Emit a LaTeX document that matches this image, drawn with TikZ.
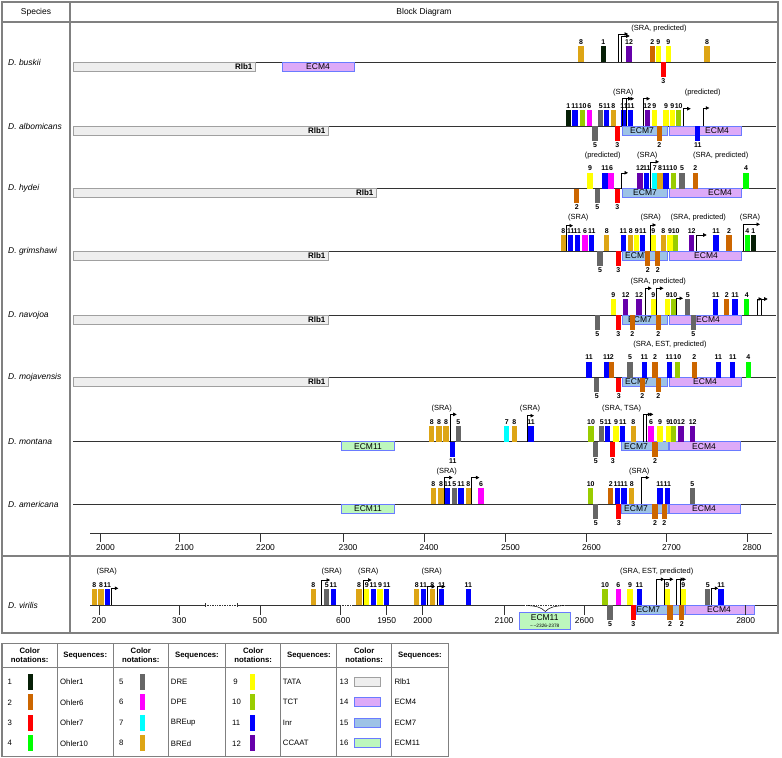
\documentclass[tikz,border=0pt]{standalone}
\usepackage{fontspec}
\setmainfont{Liberation Sans}
\usetikzlibrary{arrows.meta}
\definecolor{c1}{HTML}{061F06}
\definecolor{c2}{HTML}{CC6600}
\definecolor{c3}{HTML}{FF0000}
\definecolor{c4}{HTML}{00FF00}
\definecolor{c5}{HTML}{666666}
\definecolor{c6}{HTML}{FF00FF}
\definecolor{c7}{HTML}{00FFFF}
\definecolor{c8}{HTML}{DDA515}
\definecolor{c9}{HTML}{FFFF00}
\definecolor{c10}{HTML}{99CC00}
\definecolor{c11}{HTML}{0000FF}
\definecolor{c12}{HTML}{6600AA}
\definecolor{rlbf}{HTML}{EEEEEE}
\definecolor{rlbd}{HTML}{A0A0A0}
\definecolor{e4f}{HTML}{DDAAF8}
\definecolor{e7f}{HTML}{9DC3E6}
\definecolor{e11f}{HTML}{BDF7BD}
\definecolor{ebd}{HTML}{6A7BFF}
\newcounter{nc}
\def\rowy{0}
\newcommand\BU[2]{\stepcounter{nc}%
  \node[bar,fill=c#2,anchor=south] (u\arabic{nc}) at (#1,\rowy) {};%
  \node[num,anchor=base] (ul\arabic{nc}) at (#1,\rowy-17.6) {#2};}
\newcommand\BD[2]{\stepcounter{nc}%
  \node[bar,fill=c#2,anchor=north,minimum height=15] (d\arabic{nc}) at (#1,\rowy) {};%
  \node[num,anchor=base] (dl\arabic{nc}) at (#1,\rowy+21.4) {#2};}
\newcommand\TSS[3]{\draw[tss] (#1,\rowy) -- (#1,\rowy-#2) -- ++(#3,0);}
\newcommand\ANN[2]{\stepcounter{nc}\node[ann] (a\arabic{nc}) at (#1,\rowy-33) {#2};}
\newcommand\BOX[5]{\stepcounter{nc}\draw[#3] (#1,\rowy) rectangle (#2,\rowy+9);%
  \node[boxt] (x\arabic{nc}) at (#5,\rowy+4.5) {#4};}
\newcommand\RLB[1]{\stepcounter{nc}\draw[rlb] (73,\rowy) rectangle (#1,\rowy+9);%
  \node[boxt,font=\fontsize{8}{9}\selectfont\bfseries,anchor=east] (r\arabic{nc}) at (#1-2.5,\rowy+4.5) {Rlb1};}
\newcommand\BASE{\draw[baseln] (73,\rowy) -- (776,\rowy);}
\newcommand\SP[1]{\stepcounter{nc}\node[sp] (s\arabic{nc}) at (8,\rowy) {#1};}
\tikzset{
  bar/.style={minimum width=5.5, minimum height=16, inner sep=0, outer sep=0, draw=none},
  num/.style={font=\fontsize{7}{8}\selectfont\bfseries, inner sep=0},
  ann/.style={font=\fontsize{7.5}{9}\selectfont, inner sep=0},
  tss/.style={line width=0.6, -{Triangle[length=3.5,width=3.5]}},
  boxt/.style={font=\fontsize{8.5}{9}\selectfont, inner sep=0},
  baseln/.style={line width=0.7, draw=black!80},
  tab/.style={draw=gray, line width=1.1},
  rlb/.style={fill=rlbf, draw=rlbd, line width=0.6},
  ecm4/.style={fill=e4f, draw=ebd, line width=0.7},
  ecm7/.style={fill=e7f, draw=ebd, line width=0.7},
  ecm11/.style={fill=e11f, draw=ebd, line width=0.7},
  sp/.style={font=\fontsize{8.5}{10}\selectfont\itshape, anchor=west, inner sep=0},
  hdr/.style={font=\fontsize{8.5}{10}\selectfont, inner sep=0},
  axl/.style={font=\fontsize{8.5}{10}\selectfont, inner sep=0},
  lg/.style={font=\fontsize{7.8}{9}\selectfont, inner sep=0},
  lgh/.style={font=\fontsize{7.8}{9.5}\selectfont\bfseries, inner sep=0, align=center},
}
\begin{document}
\begin{tikzpicture}[x=1bp,y=-1bp]
\fill[white] (0,0) rectangle (782,758);
\useasboundingbox (0,0) rectangle (782,758);
% frame
\draw[tab] (2,2) rectangle (778,633);
\draw[tab] (2,22) -- (778,22);
\draw[tab] (70,2) -- (70,633);
\draw[tab] (2,556) -- (778,556);
\node[hdr] (hsp) at (36,12) {Species};
\node[hdr] (hbd) at (424,12) {Block Diagram};
% ---- D. buskii
\def\rowy{62}
\BASE
\RLB{255}
\BOX{282}{354}{ecm4}{ECM4}{318}
\foreach \x/\c in {581/8,603.3/1,629/12,652.3/2,658.3/9,668.3/9,707/8}{\BU{\x}{\c}}
\BD{663.3}{3}
\TSS{618}{28}{10}\TSS{621.7}{26}{8}
\ANN{659}{(SRA, predicted)}
\SP{D. buskii}
% ---- D. albomicans
\def\rowy{126}
\BASE
\RLB{328}
\BOX{622}{667}{ecm7}{ECM7}{642}
\BOX{669}{741}{ecm4}{ECM4}{717}
\foreach \x/\c in {568.3/1,575/11,582.7/10,589.3/6,600.7/5,606.7/11,613.3/8,624/11,630.7/11,647.3/12,654.3/9,666/9,672.3/9,678.7/10}{\BU{\x}{\c}}
\foreach \x/\c in {595/5,617.3/3,659.3/2,697.7/11}{\BD{\x}{\c}}
\TSS{622.3}{27.3}{9.4}\TSS{626.7}{27.3}{7.3}\TSS{643.3}{27.3}{6.7}\TSS{683.3}{17.3}{7.4}\TSS{703.3}{18}{6}
\ANN{623.3}{(SRA)}\ANN{702.7}{(predicted)}
\SP{D. albomicans}
% ---- D. hydei
\def\rowy{188.5}
\BASE
\RLB{376}
\BOX{622}{667}{ecm7}{ECM7}{645}
\BOX{669}{741}{ecm4}{ECM4}{720}
\foreach \x/\c in {590/9,605/11,611/6,640/12,646.7/11,654.7/7,660/8,666/11,673.3/10,682/5,695.3/2,746/4}{\BU{\x}{\c}}
\foreach \x/\c in {576.7/2,597.3/5,617.3/3}{\BD{\x}{\c}}
\TSS{621}{15.7}{7}\TSS{650}{26.7}{9}
\ANN{602.7}{(predicted)}\ANN{647.3}{(SRA)}\ANN{720.7}{(SRA, predicted)}
\SP{D. hydei}
% ---- D. grimshawi
\def\rowy{251}
\BASE
\RLB{328}
\BOX{622}{667}{ecm7}{ECM7}{637}
\BOX{669}{741}{ecm4}{ECM4}{706}
\foreach \x/\c in {563.3/8,570.7/11,577.3/11,585/6,591.7/11,606.7/8,623.3/11,630.7/8,636.7/9,642.7/11,653.3/9,663.3/8,670/9,675.7/10,691.7/12,716/11,729/2,747.3/4,753.3/1}{\BU{\x}{\c}}
\foreach \x/\c in {600/5,618.3/3,647.7/2,657.7/2}{\BD{\x}{\c}}
\TSS{566.7}{25.3}{6.3}\TSS{650}{26}{6}\TSS{696.7}{16}{10}\TSS{743.3}{26.7}{16.7}
\ANN{578.3}{(SRA)}\ANN{650.7}{(SRA)}\ANN{698.3}{(SRA, predicted)}\ANN{750}{(SRA)}
\SP{D. grimshawi}
% ---- D. navojoa
\def\rowy{315}
\BASE
\RLB{328}
\BOX{622}{667}{ecm7}{ECM7}{640}
\BOX{669}{741}{ecm4}{ECM4}{708}
\foreach \x/\c in {613.3/9,625.7/12,639/12,653.3/9,667.7/9,673.3/10,687.7/5,715.7/11,726.7/2,735/11,746.7/4}{\BU{\x}{\c}}
\foreach \x/\c in {597.3/5,618.3/3,632.3/2,658.3/2,693.3/5}{\BD{\x}{\c}}
\TSS{645}{26.7}{6.7}\TSS{656.7}{26.7}{6.7}\TSS{676.7}{16.7}{6.3}\TSS{757}{16}{5}\TSS{761}{16}{6.7}
\ANN{658.3}{(SRA, predicted)}
\SP{D. navojoa}
% ---- D. mojavensis
\def\rowy{377.5}
\BASE
\RLB{328}
\BOX{622}{667}{ecm7}{ECM7}{637}
\BOX{669}{741}{ecm4}{ECM4}{705}
\foreach \x/\c in {589/11,606.7/11,611.7/2,630/5,644.3/11,655/2,669.3/11,677.3/10,694.3/2,718.3/11,732.7/11,748.3/4}{\BU{\x}{\c}}
\foreach \x/\c in {596.7/5,618.7/3,642.3/2,658.3/2}{\BD{\x}{\c}}
\ANN{670}{(SRA, EST, predicted)}
\SP{D. mojavensis}
% ---- D. montana
\def\rowy{441.7}
\BASE
\BOX{341.7}{394.3}{ecm11}{ECM11}{368}
\BOX{621.7}{668.3}{ecm7}{ECM7}{636}
\BOX{669.3}{740}{ecm4}{ECM4}{704}
\foreach \x/\c in {431.7/8,439/8,446/8,458.3/5,506.7/7,514.3/8,531/11,591/10,601.7/5,607.7/11,616/9,622.7/11,633.3/8,651/6,660/9,668.3/9,673.3/10,681/12,692.7/12}{\BU{\x}{\c}}
\foreach \x/\c in {452.7/11,595.7/5,612.7/3,655/2}{\BD{\x}{\c}}
\TSS{450.7}{27.3}{6}\TSS{527.3}{26}{6.7}\TSS{643.3}{27.3}{8}\TSS{646}{27.3}{7.3}
\ANN{441.7}{(SRA)}\ANN{530}{(SRA)}\ANN{621.7}{(SRA, TSA)}
\SP{D. montana}
% ---- D. americana
\def\rowy{504.3}
\BASE
\BOX{341.7}{394.3}{ecm11}{ECM11}{368}
\BOX{621.7}{668.3}{ecm7}{ECM7}{636}
\BOX{669.3}{740}{ecm4}{ECM4}{704}
\foreach \x/\c in {433.3/8,441/8,447.7/11,454.3/5,461/11,468.3/8,481/6,590.7/10,610.7/2,617.3/11,624/11,631.7/8,660/11,667.3/11,692.3/5}{\BU{\x}{\c}}
\foreach \x/\c in {595.7/5,618.7/3,655/2,664.3/2}{\BD{\x}{\c}}
\TSS{444.3}{26.7}{8.3}\TSS{471.7}{26.7}{7.7}\TSS{641.7}{26.7}{7.6}
\ANN{446.7}{(SRA)}\ANN{639.3}{(SRA)}
\SP{D. americana}
% ---- axis
\draw[baseln] (90,533) -- (772,533);
\foreach \x/\t in {100.5/2000,179.5/2100,260.5/2200,343/2300,424/2400,505.5/2500,586.5/2600,666.5/2700,747/2800}{
  \draw[baseln] (\x,533) -- (\x,542);
  \node[axl] (ax\t) at (\x+5,548) {\t};}
% ---- D. virilis
\def\rowy{605}
\draw[baseln] (90,605) -- (205,605);
\draw[baseln,densely dotted,line width=0.5] (205,605) -- (237,605);
\draw[baseln] (237,605) -- (340,605);
\draw[baseln,densely dotted,line width=0.5] (340,605) -- (353,605);
\draw[baseln] (353,605) -- (524.3,605);
\draw[baseln,densely dotted,line width=0.5] (524.3,605) -- (565.7,605);
\draw[baseln] (565.7,605) -- (777,605);
\draw[baseln] (205,603) -- (205,607);
\draw[baseln] (237,603) -- (237,607);
\BOX{636.7}{685}{ecm7}{ECM7}{648.3}
\BOX{685}{754.3}{ecm4}{ECM4}{719}
\foreach \x/\t in {99/200,179.3/300,260/500,340.7/600,386.7/1950,422.7/2000,504/2100,584.3/2600,745.7/2800}{
  \draw[baseln] (\x,605) -- (\x,615);}
\foreach \x/\t in {99/200,179.3/300,260/500,343.3/600,386.7/1950,422.7/2000,504/2100,584.3/2600,745.7/2800}{
  \node[axl,fill=white,inner sep=0.5] (vx\t) at (\x,620.5) {\t};}
\draw[ecm11] (519.3,612.3) rectangle (570,629.3);
\node[boxt] (e11) at (544.7,617.8) {ECM11};
\node[font=\fontsize{4.8}{5}\selectfont, inner sep=0] (e11r) at (544.7,625.6) {\textasciitilde\,\textasciitilde2326-2378};
\draw[line width=0.5] (526.7,605.5) .. controls (536,606) and (541,607) .. (545.3,611.5) .. controls (549.5,607) and (555,606) .. (564.5,605.5);
\foreach \x/\c in {94.3/8,101/8,107.3/11,313.3/8,326.7/5,333.3/11,359/8,366.7/9,373.3/11,380/9,386.7/11,416.7/8,423.3/11,432.3/8,441.7/11,468.3/11,605/10,618.3/6,630/9,639.3/11,667.3/9,683.3/9,707.7/5,721/11}{\BU{\x}{\c}}
\foreach \x/\c in {610/5,633.3/3,670/2,681.7/2}{\BD{\x}{\c}}
\TSS{111}{16.7}{7.3}\TSS{321.7}{25}{8.3}\TSS{363.3}{25}{8.3}\TSS{427.7}{18.3}{7.3}\TSS{437.3}{18.3}{7.7}
\TSS{656.7}{25.7}{7.6}\TSS{664.3}{25.7}{9}\TSS{676.7}{25.7}{7.3}\TSS{680}{25.7}{6}\TSS{711}{16.7}{7.3}
\ANN{106.7}{(SRA)}\ANN{331.7}{(SRA)}\ANN{368.3}{(SRA)}\ANN{431.7}{(SRA)}\ANN{656.7}{(SRA, EST, predicted)}
\SP{D. virilis}
% ---- legend
\draw[tab] (2,643.3) rectangle (448.3,756.7);
\draw[tab] (2,667.3) -- (448.3,667.3);
\foreach \x in {57.3,113.3,168.3,225.7,280.7,336.7,391.7}{\draw[tab] (\x,643.3) -- (\x,756.7);}
\foreach \x/\n in {29.7/a,140.8/b,253.2/c,364.2/d}{\node[lgh] (hc\n) at (\x,655.3) {Color\\notations:};}
\foreach \x/\n in {85.3/a,197/b,309/c,420/d}{\node[lgh] (hs\n) at (\x,655.3) {Sequences:};}
\foreach \y/\k/\s in {681.7/1/Ohler1,702.3/2/Ohler6,722.7/3/Ohler7,743.3/4/Ohler10}{
  \node[lg,anchor=west] (ln\k) at (7.5,\y) {\k};
  \node[bar,fill=c\k,minimum width=5,minimum height=16] (lb\k) at (30.7,\y) {};
  \node[lg,anchor=west] (ls\k) at (60,\y) {\s};}
\foreach \y/\k/\s in {681.7/5/DRE,702.3/6/DPE,722.7/7/BREup,743.3/8/BREd}{
  \node[lg,anchor=west] (ln\k) at (119,\y) {\k};
  \node[bar,fill=c\k,minimum width=5,minimum height=16] (lb\k) at (142.3,\y) {};
  \node[lg,anchor=west] (ls\k) at (170.7,\y) {\s};}
\node[lg] (ln9) at (235.5,681.7) {9};
\foreach \y/\k in {702.3/10,722.7/11,743.3/12}{\node[lg,anchor=west] (ln\k) at (232,\y) {\k};}
\foreach \y/\k/\s in {681.7/9/TATA,702.3/10/TCT,722.7/11/Inr,743.3/12/CCAAT}{
  \node[bar,fill=c\k,minimum width=5,minimum height=16] (lb\k) at (252.3,\y) {};
  \node[lg,anchor=west] (ls\k) at (282.7,\y) {\s};}
\foreach \y/\k/\st/\s in {681.7/13/rlb/Rlb1,702.3/14/ecm4/ECM4,722.7/15/ecm7/ECM7,743.3/16/ecm11/ECM11}{
  \node[lg,anchor=west] (ln\k) at (339.5,\y) {\k};
  \node[\st,minimum width=25.7,minimum height=9,inner sep=0] (lb\k) at (367.2,\y) {};
  \node[lg,anchor=west] (ls\k) at (394.3,\y) {\s};}
\end{tikzpicture}
\end{document}
